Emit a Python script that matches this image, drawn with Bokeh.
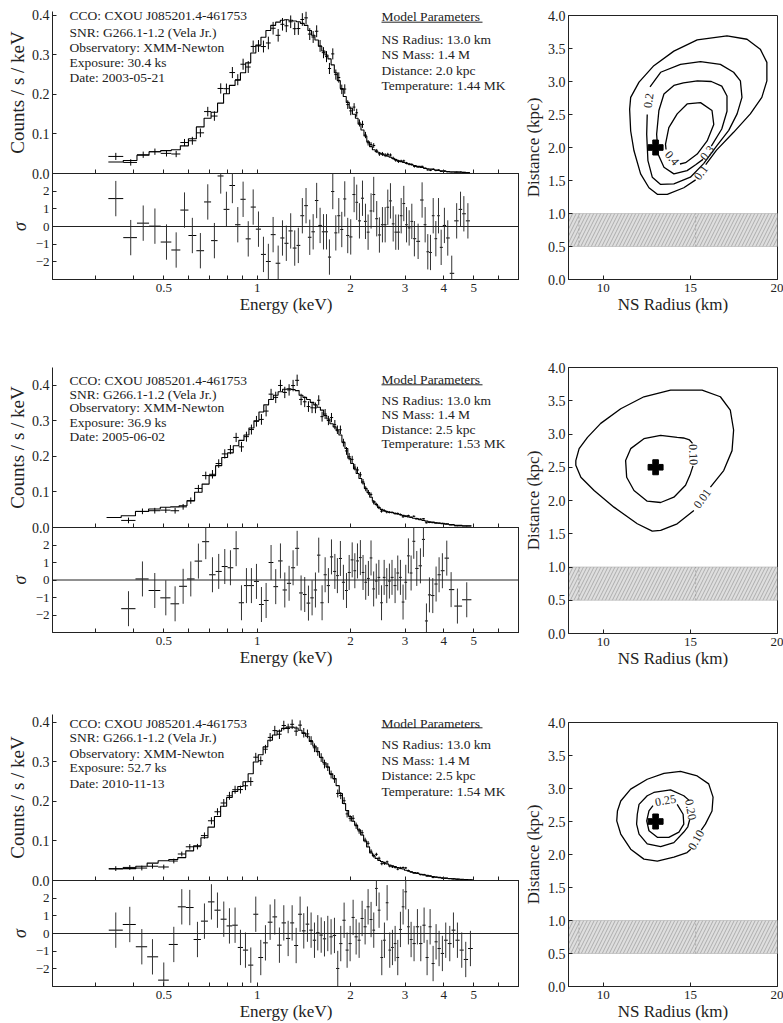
import numpy as np
from bokeh.plotting import figure
from bokeh.models import (Range1d, FixedTicker, Span, NumeralTickFormatter, Label, Title,
                          CustomJSTickFormatter)
from bokeh.layouts import column, row
from bokeh.embed import file_html
from bokeh.resources import INLINE
from bokeh.core.properties import value

FONT = "Liberation Serif"

# ---------------------------------------------------------------- metadata
CCO_NAME = "CXOU J085201.4-461753"
SNR_NAME = "G266.1-1.2 (Vela Jr.)"
OBSERVATORY = "XMM-Newton"
EXPOSURE_KS = [30.4, 36.9, 52.7]
OBS_DATES = ["2003-05-21", "2005-06-02", "2010-11-13"]
NS_RADIUS_KM = [13.0, 13.0, 13.0]
NS_MASS = [1.4, 1.4, 1.4]
DISTANCE_KPC = [2.0, 2.5, 2.5]
TEMPERATURE_MK = [1.44, 1.53, 1.54]

# ---------------------------------------------------------------- spectra
E_MAJOR = [0.5, 1, 2, 3, 4, 5]
E_MINOR = [0.3, 0.4, 0.6, 0.7, 0.8, 0.9, 6, 7]
RESID_TICKS = [-2, -1, 0, 1, 2]
COUNT_TICKS = [0.0, 0.1, 0.2, 0.3, 0.4]

energy_1 = [0.350, 0.391, 0.429, 0.468, 0.510, 0.548, 0.583, 0.618, 0.656, 0.693,
            0.728, 0.763, 0.796, 0.832, 0.866, 0.901, 0.936, 0.971, 1.010, 1.048,
            1.087, 1.126, 1.169, 1.207, 1.242, 1.283, 1.322, 1.358, 1.399, 1.438,
            1.478, 1.516, 1.556, 1.596, 1.637, 1.674, 1.711, 1.754, 1.794, 1.834,
            1.875, 1.917, 1.960, 2.004, 2.055, 2.095, 2.138, 2.187, 2.236, 2.280,
            2.331, 2.377, 2.431, 2.480, 2.536, 2.588, 2.639, 2.692, 2.747, 2.800,
            2.856, 2.915, 2.972, 3.033, 3.093, 3.155, 3.216, 3.306, 3.405, 3.483,
            3.552, 3.624, 3.698, 3.771, 3.846, 3.923, 4.019, 4.120, 4.244, 4.402,
            4.530, 4.643, 4.785]
model_1 = [0.029, 0.033, 0.046, 0.055, 0.058, 0.060, 0.070, 0.088, 0.118, 0.140,
           0.155, 0.178, 0.202, 0.223, 0.236, 0.255, 0.280, 0.305, 0.325, 0.345,
           0.362, 0.375, 0.383, 0.388, 0.389, 0.388, 0.386, 0.384, 0.380, 0.375,
           0.362, 0.350, 0.338, 0.322, 0.310, 0.300, 0.290, 0.275, 0.255, 0.235,
           0.215, 0.195, 0.180, 0.165, 0.150, 0.140, 0.125, 0.110, 0.095, 0.080,
           0.068, 0.060, 0.055, 0.052, 0.049, 0.046, 0.044, 0.041, 0.038, 0.035,
           0.032, 0.030, 0.028, 0.026, 0.024, 0.022, 0.020, 0.018, 0.015, 0.013,
           0.012, 0.011, 0.010, 0.009, 0.008, 0.007, 0.006, 0.005, 0.004, 0.0035,
           0.003, 0.0025, 0.002]
error_1 = [0.009, 0.008, 0.008, 0.008, 0.008, 0.008, 0.009, 0.010, 0.011, 0.012,
           0.012, 0.013, 0.013, 0.014, 0.014, 0.014, 0.015, 0.015, 0.015, 0.015,
           0.016, 0.016, 0.016, 0.016, 0.016, 0.016, 0.016, 0.016, 0.016, 0.016,
           0.015, 0.015, 0.015, 0.015, 0.014, 0.014, 0.014, 0.014, 0.013, 0.013,
           0.012, 0.012, 0.011, 0.011, 0.010, 0.010, 0.009, 0.009, 0.008, 0.007,
           0.006, 0.006, 0.005, 0.005, 0.005, 0.005, 0.004, 0.004, 0.004, 0.004,
           0.004, 0.003, 0.003, 0.003, 0.003, 0.003, 0.003, 0.002, 0.002, 0.002,
           0.002, 0.002, 0.002, 0.002, 0.0015, 0.0015, 0.0015, 0.0012, 0.0012, 0.001,
           0.001, 0.001, 0.001]
resid_1 = [1.58, -0.63, 0.19, 0.02, -0.88, -1.33, 0.93, -0.51, -1.37, 1.39,
           -0.80, 2.86, 0.97, 2.32, 0.10, 1.54, -0.70, 1.10, -0.15, -1.58,
           -1.98, -0.46, -2.08, -0.65, -0.95, -0.25, -1.22, -1.07, 0.61, 1.18,
           -0.61, -0.30, 1.47, 0.06, -0.30, -0.30, -1.73, 1.98, -0.36, 0.61,
           -0.17, 1.56, -0.51, -0.59, 1.81, 1.37, 0.32, 1.60, 0.29, -0.32,
           0.88, 1.81, 0.44, -0.48, 0.10, 0.10, 1.09, 1.45, 0.15, -0.32,
           -0.32, 0.61, 1.30, 0.10, -0.08, 0.29, -0.69, -0.84, 1.50, 0.10,
           -1.43, -1.47, 0.61, -0.69, 0.61, -1.18, 0.06, -0.65, -2.65, 0.32,
           0.97, 0.72, 0.32]

nan = float("nan")
energy_2 = [0.345, 0.3846, 0.4266, 0.4675, 0.5074, 0.5437, 0.5771, 0.6109, 0.6465, 0.6828,
            0.7176, 0.7517, 0.7863, 0.8201, 0.8555, 0.8902, 0.9236, 0.9585, 0.9949, 1.0325,
            1.0689, 1.109, 1.148, 1.189, 1.228, 1.268, 1.306, 1.346, 1.386, 1.424,
            1.464, 1.504, 1.542, 1.580, 1.620, 1.657, 1.698, 1.737, 1.781, 1.815,
            1.856, 1.898, 1.942, 1.981, 2.026, 2.066, 2.107, 2.153, 2.196, 2.240,
            2.285, 2.330, 2.376, 2.423, 2.470, 2.519, 2.569, 2.619, 2.671, 2.723,
            2.786, 2.842, 2.899, 2.956, 3.016, 3.076, 3.138, 3.201, 3.273, 3.363,
            3.439, 3.517, 3.596, 3.686, 3.778, 3.863, 3.959, 4.090, 4.224, 4.427,
            4.744]
model_2 = [0.028, 0.033, 0.045, 0.052, 0.057, 0.058, 0.061, 0.075, 0.099, 0.122,
           0.146, 0.174, 0.197, 0.210, 0.230, 0.245, 0.260, 0.280, 0.300, 0.325,
           0.345, 0.360, 0.372, 0.382, 0.389, 0.390, 0.388, 0.385, 0.372, 0.366,
           0.360, 0.352, 0.345, 0.338, 0.330, 0.315, 0.305, 0.292, 0.283, 0.272,
           0.260, 0.240, 0.222, 0.195, 0.180, 0.165, 0.152, 0.138, 0.125, 0.110,
           0.098, 0.085, 0.074, 0.065, 0.056, 0.051, 0.047, 0.045, 0.043, 0.042,
           0.040, 0.038, 0.036, 0.034, 0.032, 0.030, 0.028, 0.026, 0.024, 0.022,
           0.020, 0.018, 0.016, 0.015, 0.013, 0.012, 0.011, 0.009, 0.008, 0.006,
           0.005]
error_2 = [nan, 0.008, 0.008, 0.008, 0.008, 0.008, 0.008, 0.009, 0.010, 0.011,
           0.012, 0.012, 0.013, 0.013, 0.013, 0.014, 0.014, 0.014, 0.015, 0.015,
           0.015, 0.015, 0.016, 0.016, 0.016, 0.016, 0.016, 0.016, 0.016, 0.015,
           0.015, 0.015, 0.015, 0.014, 0.014, 0.014, 0.013, 0.013, 0.013, 0.012,
           0.012, 0.011, 0.011, 0.010, 0.010, 0.009, 0.009, 0.008, 0.008, 0.007,
           0.007, 0.006, 0.006, 0.005, 0.005, 0.004, 0.004, 0.004, 0.003, 0.003,
           0.003, 0.003, 0.003, 0.003, 0.0025, 0.0025, 0.0025, 0.0025, 0.002, 0.002,
           0.002, 0.002, 0.002, 0.0015, 0.0015, 0.0015, 0.0015, 0.0012, 0.0012, 0.001,
           0.001]
resid_2 = [nan, -1.64, 0.06, -0.60, -1.02, -1.36, -0.36, 0.06, 1.08, 2.19,
           0.30, 0.49, 0.77, 0.70, 1.79, -1.30, -0.32, -0.32, -0.08, -1.40,
           -1.17, 1.00, -0.38, 1.09, -0.57, -0.19, 0.70, 1.81, -0.74, -0.83,
           -1.32, -1.02, -0.57, 1.42, -1.30, 0.30, -0.32, 1.32, 0.49, 0.25,
           1.23, -0.13, -0.60, 0.43, 1.15, 0.53, 1.09, 1.28, 0.43, -0.13,
           0.09, 1.26, -0.51, -0.06, 0.15, -1.30, 0.15, -0.32, -0.06, 0.15,
           -0.32, 0.40, 0.15, -1.26, -0.13, 1.38, 0.40, 2.21, 0.66, 0.81,
           2.32, -2.34, -0.85, -0.89, -0.23, 0.30, 0.53, 1.25, -0.55, -1.49,
           -1.13]

energy_3 = [0.3499, 0.3883, 0.4246, 0.4596, 0.4998, 0.5385, 0.5714, 0.6063, 0.6419, 0.6761,
            0.7121, 0.7447, 0.7805, 0.8141, 0.8488, 0.8835, 0.9169, 0.9539, 0.9899, 1.0273,
            1.0636, 1.1013, 1.140, 1.180, 1.219, 1.259, 1.297, 1.336, 1.376, 1.414,
            1.453, 1.493, 1.531, 1.569, 1.609, 1.649, 1.690, 1.732, 1.776, 1.820,
            1.861, 1.908, 1.951, 1.995, 2.040, 2.086, 2.133, 2.181, 2.230, 2.280,
            2.331, 2.378, 2.425, 2.474, 2.524, 2.574, 2.626, 2.678, 2.732, 2.787,
            2.842, 2.899, 2.957, 3.016, 3.076, 3.138, 3.208, 3.289, 3.372, 3.456,
            3.534, 3.614, 3.695, 3.778, 3.863, 3.959, 4.059, 4.182, 4.298, 4.427,
            4.571, 4.709, 4.876]
model_3 = [0.029, 0.030, 0.036, 0.044, 0.050, 0.053, 0.058, 0.075, 0.088, 0.108,
           0.135, 0.162, 0.188, 0.210, 0.225, 0.238, 0.250, 0.270, 0.300, 0.318,
           0.338, 0.355, 0.368, 0.378, 0.385, 0.388, 0.388, 0.386, 0.380, 0.372,
           0.365, 0.352, 0.340, 0.326, 0.312, 0.298, 0.287, 0.270, 0.258, 0.240,
           0.220, 0.195, 0.177, 0.162, 0.150, 0.140, 0.128, 0.115, 0.100, 0.085,
           0.070, 0.062, 0.056, 0.051, 0.048, 0.045, 0.042, 0.039, 0.037, 0.035,
           0.033, 0.031, 0.029, 0.026, 0.024, 0.022, 0.020, 0.018, 0.016, 0.014,
           0.013, 0.011, 0.010, 0.009, 0.008, 0.007, 0.006, 0.005, 0.004, 0.0035,
           0.003, 0.0025, 0.002]
error_3 = [0.006, 0.006, 0.006, 0.006, 0.006, 0.006, 0.006, 0.007, 0.007, 0.008,
           0.009, 0.009, 0.010, 0.010, 0.010, 0.010, 0.011, 0.011, 0.011, 0.011,
           0.011, 0.011, 0.012, 0.012, 0.012, 0.012, 0.012, 0.012, 0.012, 0.012,
           0.011, 0.011, 0.011, 0.011, 0.011, 0.011, 0.010, 0.010, 0.010, 0.010,
           0.009, 0.009, 0.009, 0.008, 0.008, 0.008, 0.007, 0.007, 0.006, 0.006,
           0.005, 0.005, 0.004, 0.004, 0.004, 0.004, 0.003, 0.003, 0.003, 0.003,
           0.003, 0.003, 0.0025, 0.0025, 0.0025, 0.002, 0.002, 0.002, 0.002, 0.002,
           0.0015, 0.0015, 0.0015, 0.0015, 0.0012, 0.0012, 0.0012, 0.001, 0.001, 0.001,
           0.001, 0.001, 0.001]
resid_3 = [0.19, 0.51, -0.75, -1.32, -2.64, -0.62, 1.51, 1.47, -0.34, 0.70,
           1.79, 1.32, 0.81, 0.43, 0.47, -0.79, -0.94, -1.79, 1.09, -1.36,
           -0.53, 0.64, 0.94, -0.66, 0.60, -0.28, 0.60, -0.68, 1.09, 0.15,
           0.53, 0.19, -0.38, 0.04, -0.09, -0.30, 0.00, -0.19, -0.11, -1.98,
           -0.57, 0.75, -0.94, -0.57, 0.91, -0.19, -0.38, 0.85, 0.38, 1.51,
           0.79, 0.19, 2.55, 1.32, -1.36, -0.38, 1.74, -0.94, -0.79, -0.57,
           -1.36, 0.23, 1.51, 2.36, 0.38, -0.34, -0.57, 0.38, -0.57, 0.47,
           -1.36, 0.38, -1.70, -0.47, -0.85, -1.13, -0.38, -0.57, 0.19, -0.38,
           -0.94, -1.47, -0.85]

# ---------------------------------------------------------------- likelihood contours
DIST_CONSTRAINT_KPC = [0.5, 1.0]
RADIUS_MARKS_KM = [8.6, 15.3]

contour_x_1 = [
    [15.30, 14.62, 13.67, 13.10, 12.62, 12.14, 11.76, 11.57, 11.51, 11.57, 12.05, 12.90,
     14.05, 15.39, 17.10, 18.25, 19.01, 19.39, 19.39, 19.10, 18.44, 17.48, 16.50, 15.88],
    [12.68, 13.29, 14.43, 15.58, 16.72, 17.48, 17.87, 17.96, 17.68, 17.20, 16.50, 15.77,
     15.00, 14.05, 13.29, 12.81, 12.56, 12.49, 12.52],
    [16.20, 16.80, 17.10, 17.10, 16.80, 16.20, 15.40, 14.60, 14.05, 13.48, 13.19, 13.06,
     13.14, 13.48, 14.05, 14.81, 15.30, 15.72],
    [14.40, 14.72, 15.39, 15.96, 16.34, 16.24, 15.58, 14.81, 14.24, 13.76, 13.57, 13.60],
]
contour_y_1 = [
    [1.51, 1.39, 1.29, 1.29, 1.39, 1.60, 1.95, 2.25, 2.58, 2.76, 2.99, 3.24,
     3.46, 3.63, 3.69, 3.64, 3.49, 3.29, 3.01, 2.76, 2.51, 2.23, 1.96, 1.74],
    [2.92, 3.14, 3.26, 3.30, 3.26, 3.14, 3.01, 2.76, 2.51, 2.26, 2.02, 1.76,
     1.55, 1.45, 1.44, 1.55, 1.80, 2.20, 2.50],
    [2.02, 2.28, 2.55, 2.78, 2.93, 3.00, 3.01, 2.98, 2.94, 2.81, 2.56, 2.20,
     1.90, 1.70, 1.60, 1.65, 1.74, 1.82],
    [1.75, 1.77, 1.90, 2.10, 2.35, 2.56, 2.68, 2.66, 2.51, 2.30, 2.05, 1.97],
]
clabel_text_1 = ["0.1", "0.2", "0.3", "0.4"]
clabel_x_1 = [15.60, 12.60, 15.96, 13.95]
clabel_y_1 = [1.62, 2.71, 1.92, 1.84]
clabel_angle_1 = [52, 82, 51, -50]

contour_x_2 = [
    [15.20, 14.24, 13.29, 12.81, 11.95, 10.61, 9.47, 8.71, 8.42, 8.42, 8.61, 9.09, 9.85,
     11.00, 12.33, 13.86, 15.67, 16.72, 17.29, 17.48, 17.39, 16.91, 16.15],
    [15.12, 14.95, 14.60, 14.24, 13.29, 12.33, 11.57, 11.28, 11.34, 11.76, 12.52, 13.29,
     14.05, 14.72, 15.00, 15.15],
]
contour_y_2 = [
    [1.85, 1.65, 1.55, 1.54, 1.65, 1.90, 2.15, 2.35, 2.53, 2.60, 2.78, 2.95, 3.16,
     3.38, 3.56, 3.66, 3.66, 3.56, 3.36, 3.06, 2.75, 2.45, 2.20],
    [2.86, 2.91, 2.94, 2.95, 2.98, 2.93, 2.78, 2.60, 2.35, 2.15, 1.99, 1.97,
     2.05, 2.23, 2.40, 2.52],
]
clabel_text_2 = ["0.01", "0.10"]
clabel_x_2 = [15.67, 15.17]
clabel_y_2 = [2.03, 2.69]
clabel_angle_2 = [54, -88]

contour_x_3 = [
    [15.02, 14.81, 14.05, 13.10, 12.33, 11.57, 11.00, 10.77, 10.81, 11.00, 11.57, 12.52,
     13.48, 14.43, 15.39, 16.05, 16.30, 16.24, 15.86, 15.62],
    [14.96, 14.85, 14.62, 14.05, 13.29, 12.52, 12.05, 11.91, 11.95, 12.05, 12.52, 12.90,
     13.86, 14.62, 14.93],
    [14.24, 14.58, 14.62, 14.34, 13.76, 13.10, 12.62, 12.49, 12.62, 12.85],
]
contour_y_3 = [
    [2.08, 2.03, 1.96, 1.90, 1.93, 2.08, 2.31, 2.51, 2.66, 2.81, 2.99, 3.14,
     3.23, 3.26, 3.19, 3.07, 2.87, 2.66, 2.46, 2.37],
    [2.53, 2.42, 2.34, 2.18, 2.12, 2.16, 2.31, 2.46, 2.61, 2.76, 2.89, 2.94,
     2.98, 2.89, 2.82],
    [2.76, 2.61, 2.46, 2.34, 2.26, 2.26, 2.36, 2.51, 2.66, 2.74],
]
clabel_text_3 = ["0.10", "0.20", "0.25"]
clabel_x_3 = [15.32, 15.02, 13.57]
clabel_y_3 = [2.22, 2.68, 2.82]
clabel_angle_3 = [61, -80, 10]

# ---------------------------------------------------------------- layout (pixels)
LAYOUT = [
    dict(tb=11, fh=162, ymax=0.41, rfh=106, bb=75, ctb=15, cfh=264,
         left_off=[4, 21.3, 35.7, 51.3, 65.7], title_off=5, ul_off=10.7,
         right_off=[28.3, 43.3, 59, 74]),
    dict(tb=13, fh=160, ymax=0.45, rfh=105, bb=76, ctb=13, cfh=266,
         left_off=[13, 26.7, 40.3, 54.7, 69], title_off=12, ul_off=17.3,
         right_off=[32.5, 47, 61.5, 76]),
    dict(tb=6, fh=166, ymax=0.42, rfh=106, bb=37, ctb=14, cfh=264,
         left_off=[8.7, 23.3, 38.7, 53.3, 68.7], title_off=8.7, ul_off=13.3,
         right_off=[30.3, 46, 61, 77]),
]
LEFT_W = 519
LEFT_BORDER = 52
RIGHT_W = 264
C_LEFT, C_RIGHT = 49, 6
E_RANGE = (0.2187, 7.02)
R_RANGE = (8, 20)
D_RANGE = (0, 4)
RES_RANGE = (-3, 3)
OVERLAP = 9   # px of the top panel's canvas that sit under the residual panel


def e_at(px):
    """energy at a horizontal pixel offset from the spectrum frame's left edge"""
    fw = LEFT_W - LEFT_BORDER
    return E_RANGE[0] * (E_RANGE[1] / E_RANGE[0]) ** (px / fw)


def bin_edges(E):
    E = np.asarray(E, float)
    mid = np.sqrt(E[:-1] * E[1:])
    return np.concatenate([[E[0] ** 2 / mid[0]], mid, [E[-1] ** 2 / mid[-1]]])


def style(ax, tick_size="13px"):
    ax.major_tick_in = 4
    ax.major_tick_out = 0
    ax.minor_tick_in = 4
    ax.minor_tick_out = 0
    ax.axis_line_color = "#222222"
    ax.major_tick_line_color = "#222222"
    ax.minor_tick_line_color = "#222222"
    ax.major_label_text_font = FONT
    ax.major_label_text_font_size = tick_size
    ax.major_label_text_color = "#222222"
    ax.major_label_standoff = 3


def side_title(p, text, side, size="17px", standoff=0, italic=False):
    p.add_layout(Title(text=text, align="center", text_font=FONT, text_font_size=size,
                       text_font_style="italic" if italic else "normal",
                       text_color="#222222", standoff=standoff, offset=0), side)


def note(p, x, y, text):
    p.add_layout(Label(x=x, y=y, text=text, text_font=FONT, text_font_size="13.5px",
                       text_baseline="middle", text_align="left", text_color="#222222"))


E_FMT = "return tick.toString();"
R_FMT = "return tick < 0 ? '\u2212' + Math.abs(tick) : tick.toString();"


def spectrum(i, E, model, err, resid, cfg):
    E = np.asarray(E, float)
    model = np.asarray(model, float)
    err = np.asarray(err, float)
    resid = np.asarray(resid, float)
    edges = bin_edges(E)
    lo, hi = edges[:-1], edges[1:]
    rate = model + resid * err
    ok = np.isfinite(resid)

    top = figure(width=LEFT_W, height=cfg["tb"] + cfg["fh"] + OVERLAP, x_axis_type="log",
                 x_range=Range1d(*E_RANGE), y_range=Range1d(0, cfg["ymax"]),
                 output_backend="svg", toolbar_location=None,
                 min_border_left=LEFT_BORDER, min_border_right=0,
                 min_border_top=cfg["tb"], min_border_bottom=OVERLAP)
    top.outline_line_color = None
    top.grid.visible = False
    top.background_fill_color = None
    top.border_fill_color = None
    for ax in top.xaxis:
        style(ax)
        ax.ticker = FixedTicker(ticks=E_MAJOR, minor_ticks=E_MINOR)
        ax.major_label_text_font_size = "0px"
        ax.major_label_text_alpha = 0
        ax.major_label_standoff = 0
    for ax in top.yaxis:
        style(ax, "14px")
        ax.ticker = FixedTicker(ticks=COUNT_TICKS)
        ax.formatter = NumeralTickFormatter(format="0.0")
    side_title(top, "Counts / s / keV", "left", size="19px", standoff=2)

    top.step(x=edges, y=np.append(model, model[-1]), mode="after",
             line_color="black", line_width=1.1)
    top.segment(x0=lo[ok], y0=rate[ok], x1=hi[ok], y1=rate[ok],
                line_color="black", line_width=1)
    top.segment(x0=E[ok], y0=(rate - err)[ok], x1=E[ok], y1=(rate + err)[ok],
                line_color="black", line_width=1)

    def yoff(o):
        return cfg["ymax"] * (1 - o / cfg["fh"])

    left_lines = [f"CCO: {CCO_NAME}", f"SNR: {SNR_NAME}", f"Observatory: {OBSERVATORY}",
                  f"Exposure: {EXPOSURE_KS[i]:.1f} ks", f"Date: {OBS_DATES[i]}"]
    for t, o in zip(left_lines, cfg["left_off"]):
        note(top, e_at(17), yoff(o), t)
    right_lines = [f"NS Radius: {NS_RADIUS_KM[i]:.1f} km", f"NS Mass: {NS_MASS[i]:.1f} M",
                   f"Distance: {DISTANCE_KPC[i]:.1f} kpc",
                   f"Temperature: {TEMPERATURE_MK[i]:.2f} MK"]
    note(top, e_at(329), yoff(cfg["title_off"]), "Model Parameters")
    top.segment(x0=[e_at(329)], y0=[yoff(cfg["ul_off"])], x1=[e_at(430)],
                y1=[yoff(cfg["ul_off"])], line_color="#222222", line_width=1)
    for t, o in zip(right_lines, cfg["right_off"]):
        note(top, e_at(329), yoff(o), t)

    res = figure(width=LEFT_W, height=cfg["rfh"] + cfg["bb"], x_axis_type="log",
                 x_range=top.x_range, y_range=Range1d(*RES_RANGE),
                 output_backend="svg", toolbar_location=None,
                 min_border_left=LEFT_BORDER, min_border_right=0,
                 min_border_top=0, min_border_bottom=cfg["bb"],
                 margin=(-OVERLAP, 0, 0, 0))
    res.outline_line_color = "#222222"
    res.grid.visible = False
    res.border_fill_color = None
    res.background_fill_color = None
    for ax in res.xaxis:
        style(ax)
        ax.ticker = FixedTicker(ticks=E_MAJOR, minor_ticks=E_MINOR)
        ax.formatter = CustomJSTickFormatter(code=E_FMT)
        ax.major_label_standoff = 4
    for ax in res.yaxis:
        style(ax, "13px")
        ax.ticker = FixedTicker(ticks=RESID_TICKS)
        ax.formatter = CustomJSTickFormatter(code=R_FMT)
    side_title(res, "\u03c3", "left", size="18px", standoff=5, italic=True)
    side_title(res, "Energy (keV)", "below", size="17px", standoff=-4)
    res.add_layout(Span(location=0, dimension="width", line_color="#222222", line_width=1))
    res.segment(x0=lo[ok], y0=resid[ok], x1=hi[ok], y1=resid[ok],
                line_color="black", line_width=1)
    res.segment(x0=E[ok], y0=resid[ok] - 1, x1=E[ok], y1=resid[ok] + 1,
                line_color="#333333", line_width=1)
    return column(top, res, spacing=0)


def contours(i, cx, cy, ltext, lx, ly, lang, cfg):
    total = cfg["tb"] + cfg["fh"] + cfg["rfh"] + cfg["bb"]
    bottom = total - cfg["ctb"] - cfg["cfh"]
    c = figure(width=RIGHT_W, height=total,
               x_range=Range1d(*R_RANGE), y_range=Range1d(*D_RANGE),
               output_backend="svg", toolbar_location=None,
               min_border_left=C_LEFT, min_border_right=C_RIGHT,
               min_border_top=cfg["ctb"], min_border_bottom=bottom)
    c.outline_line_color = "#222222"
    c.grid.visible = False
    c.border_fill_color = None
    for ax in c.xaxis:
        style(ax, "13px")
        ax.ticker = FixedTicker(ticks=[10, 15, 20])
        ax.major_label_standoff = 4
    for ax in c.yaxis:
        style(ax, "14px")
        ax.ticker = FixedTicker(ticks=[0, 0.5, 1, 1.5, 2, 2.5, 3, 3.5, 4])
        ax.formatter = NumeralTickFormatter(format="0.0")
    side_title(c, "Distance (kpc)", "left", size="17px", standoff=4)
    side_title(c, "NS Radius (km)", "below", size="17px", standoff=-4)

    c.quad(left=[R_RANGE[0]], right=[R_RANGE[1]], bottom=[DIST_CONSTRAINT_KPC[0]],
           top=[DIST_CONSTRAINT_KPC[1]],
           fill_color="#dedede", line_color="#b0b0b0", line_width=0.6,
           hatch_pattern="/", hatch_color="#8c8c8c", hatch_scale=7, hatch_weight=0.6)
    c.segment(x0=RADIUS_MARKS_KM, y0=[DIST_CONSTRAINT_KPC[0]] * 2,
              x1=RADIUS_MARKS_KM, y1=[DIST_CONSTRAINT_KPC[1]] * 2,
              line_color="#8c8c8c", line_width=0.6, line_dash="2 2")
    c.multi_line(xs=cx, ys=cy, line_color="black", line_width=1.3)
    c.text(x=lx, y=ly, text=ltext, angle=list(np.radians(lang)), angle_units="rad",
           text_font=value(FONT), text_font_size="12px", text_align="center",
           text_baseline="middle", text_color="#222222")
    c.scatter(x=[NS_RADIUS_KM[i]], y=[DISTANCE_KPC[i]], marker="plus", size=15,
              fill_color="black", line_color="black")
    return c


spectra = [(energy_1, model_1, error_1, resid_1),
           (energy_2, model_2, error_2, resid_2),
           (energy_3, model_3, error_3, resid_3)]
conts = [(contour_x_1, contour_y_1, clabel_text_1, clabel_x_1, clabel_y_1, clabel_angle_1),
         (contour_x_2, contour_y_2, clabel_text_2, clabel_x_2, clabel_y_2, clabel_angle_2),
         (contour_x_3, contour_y_3, clabel_text_3, clabel_x_3, clabel_y_3, clabel_angle_3)]

blocks = []
for i in range(3):
    left = spectrum(i, *spectra[i], LAYOUT[i])
    right = contours(i, *conts[i], LAYOUT[i])
    blocks.append(row(left, right, spacing=0))

p = column(*blocks, spacing=0)
open("out.html", "w").write(file_html(p, INLINE))
